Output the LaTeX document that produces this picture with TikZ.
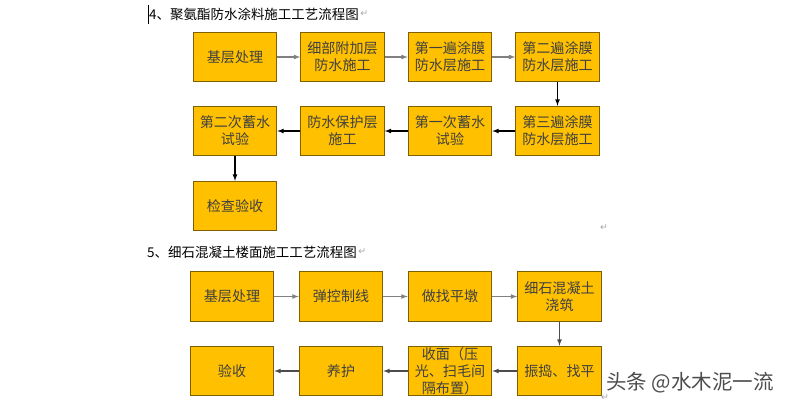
\documentclass[tikz,border=0pt]{standalone}
\usepackage{fontspec}
\setmainfont{Noto Sans CJK SC}
\newfontfamily\symfont{DejaVu Sans}
\usetikzlibrary{positioning,arrows}
\definecolor{boxfill}{HTML}{FFC000}
\definecolor{boxline}{HTML}{7F6000}

\begin{document}
\begin{tikzpicture}[x=0.03cm,y=-0.03cm,
  box/.style={draw=boxline,fill=boxfill,line width=1pt,minimum width=2.5cm,minimum height=1.48cm,inner sep=1pt,align=center,font=\fontsize{12}{14.5}\selectfont,text=black!75},
  go/.style={-latex,line width=0.9pt},
  gogray/.style={go,draw=black!50},
  ttl/.style={anchor=west,inner sep=0pt,font=\fontsize{11.5}{14}\selectfont},
  ret/.style={inner sep=0pt,font=\symfont\fontsize{8}{8}\selectfont,text=black!35}]
  \useasboundingbox (0,0) rectangle (785,411);

  % section 4
  \draw[line width=0.6pt] (148,5) -- (148,24);
  \node[ttl] (t4) at (149,14) {4、聚氨酯防水涂料施工工艺流程图};
  \node[ret,right=1pt of t4] (r1) {↵};

  \node[box] (a1) at (235,57) {基层处理};
  \node[box] (a2) at (342.5,57) {细部附加层\\防水施工};
  \node[box] (a3) at (450,57) {第一遍涂膜\\防水层施工};
  \node[box] (a4) at (557.5,57) {第二遍涂膜\\防水层施工};
  \node[box] (a5) at (557.5,131) {第三遍涂膜\\防水层施工};
  \node[box] (a6) at (450,131) {第一次蓄水\\试验};
  \node[box] (a7) at (342.5,131) {防水保护层\\施工};
  \node[box] (a8) at (235,131) {第二次蓄水\\试验};
  \node[box] (a9) at (235,206) {检查验收};
  \node[ret] (r2) at (604,228) {↵};

  \draw[gogray] (a1) -- (a2);
  \draw[gogray] (a2) -- (a3);
  \draw[gogray] (a3) -- (a4);
  \draw[go] (a4) -- (a5);
  \draw[go] (a5) -- (a6);
  \draw[go] (a6) -- (a7);
  \draw[go] (a7) -- (a8);
  \draw[go] (a8) -- (a9);

  % section 5
  \node[ttl] (t5) at (147,252) {5、细石混凝土楼面施工工艺流程图};
  \node[ret,right=1pt of t5] (r3) {↵};

  \node[box] (b1) at (232,296.5) {基层处理};
  \node[box] (b2) at (341,296.5) {弹控制线};
  \node[box] (b3) at (450,296.5) {做找平墩};
  \node[box] (b4) at (559.5,296.5) {细石混凝土\\浇筑};
  \node[box] (b5) at (559.5,371) {振捣、找平};
  \node[box] (b6) at (450,371) {收面（压\\光、扫毛间\\隔布置）};
  \node[box] (b7) at (341,371) {养护};
  \node[box] (b8) at (232,371) {验收};
  \node[ret] (r4) at (605,398) {↵};

  \draw[gogray] (b1) -- (b2);
  \draw[gogray] (b2) -- (b3);
  \draw[gogray] (b3) -- (b4);
  \draw[go,draw=black!70] (b4) -- (b5);
  \draw[go,draw=black!70] (b5) -- (b6);
  \draw[go,draw=black!70] (b6) -- (b7);
  \draw[go,draw=black!70] (b7) -- (b8);

  \node[anchor=west,inner sep=0pt,font=\fontsize{17.5}{19}\selectfont,text=black!70] (wm) at (606,383) {头条 @水木泥一流};
\end{tikzpicture}
\end{document}
